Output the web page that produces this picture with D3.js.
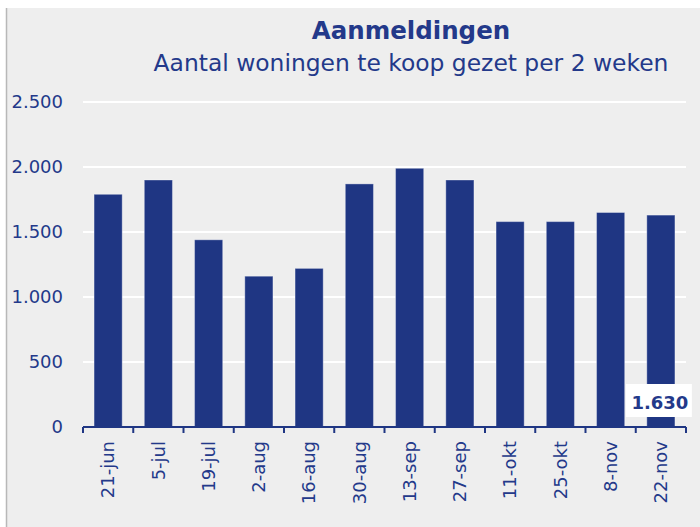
<!DOCTYPE html>
<html>
<head>
<meta charset="utf-8">
<script src="https://cdn.jsdelivr.net/npm/d3@7"></script>
<style>
html,body{margin:0;padding:0;background:#fff;}
svg{display:block;font-family:"DejaVu Sans",sans-serif;}
</style>
</head>
<body>
<svg id="chart"></svg>
<script>
const W=700,H=527;
// data
const periods=['21-jun','5-jul','19-jul','2-aug','16-aug','30-aug','13-sep','27-sep','11-okt','25-okt','8-nov','22-nov'];
const aanmeldingen=[1790,1900,1440,1160,1220,1870,1990,1900,1580,1580,1650,1630];
const yTicks=[0,500,1000,1500,2000,2500];
const title='Aanmeldingen';
const subtitle='Aantal woningen te koop gezet per 2 weken';

const NAVY='#1f3683', TXT='#23398a';
const svg=d3.select('#chart').attr('width',W).attr('height',H);

// panel background + left border
svg.append('rect').attr('x',7).attr('y',8).attr('width',W-7).attr('height',H-8).attr('fill','#eeeeee');
svg.append('line').attr('x1',6.5).attr('x2',6.5).attr('y1',8).attr('y2',H).attr('stroke','#b8b8b8').attr('stroke-width',1.5);

const x=d3.scaleBand().domain(periods).range([83,686]).paddingInner(0.44).paddingOuter(0.22);
const y=d3.scaleLinear().domain([0,2500]).range([427,102]);

// titles
const cx=411;
svg.append('text').attr('x',cx).attr('y',39).attr('text-anchor','middle')
  .attr('fill',TXT).style('font-weight','bold').style('font-size','24.5px').text(title);
svg.append('text').attr('x',cx).attr('y',71).attr('text-anchor','middle')
  .attr('fill',TXT).style('font-size','23.4px').text(subtitle);

// gridlines
svg.append('g').selectAll('line').data(yTicks.filter(d=>d>0)).join('line')
  .attr('x1',83).attr('x2',686).attr('y1',d=>y(d)).attr('y2',d=>y(d))
  .attr('stroke','#ffffff').attr('stroke-width',2);

// y labels
svg.append('g').selectAll('text').data(yTicks).join('text')
  .attr('x',63).attr('y',d=>y(d)).attr('dy','0.36em').attr('text-anchor','end')
  .attr('fill',TXT).style('font-size','18px')
  .text(d=>d3.format(',')(d).replace(/,/g,'.'));

// bars
svg.append('g').selectAll('rect').data(periods).join('rect')
  .attr('x',d=>x(d)).attr('width',x.bandwidth())
  .attr('y',(d,i)=>y(aanmeldingen[i])).attr('height',(d,i)=>y(0)-y(aanmeldingen[i]))
  .attr('fill',NAVY).attr('stroke','#ffffff').attr('stroke-opacity',0.35).attr('stroke-width',1);

// x axis line + ticks between categories
const gx=svg.append('g');
const edges=periods.map(d=>x(d)-x.step()*x.paddingInner()/2).concat([x.range()[1]]);
edges[0]=x.range()[0];
gx.append('line').attr('x1',x.range()[0]).attr('x2',x.range()[1]).attr('y1',y(0)).attr('y2',y(0))
  .attr('stroke',NAVY).attr('stroke-width',2);
gx.selectAll('line.tk').data(edges).join('line').attr('class','tk')
  .attr('x1',d=>d).attr('x2',d=>d).attr('y1',y(0)).attr('y2',y(0)+6)
  .attr('stroke',NAVY).attr('stroke-width',2);
gx.selectAll('text').data(periods).join('text')
  .attr('transform',d=>`translate(${x(d)+x.bandwidth()/2},441) rotate(-90)`)
  .attr('dy','0.35em').attr('text-anchor','end')
  .attr('fill',TXT).style('font-size','18px').text(d=>d);

// value label on last bar
const last=periods.length-1;
const lx=x(periods[last])+x.bandwidth()/2-2;
const lab=svg.append('g');
lab.append('rect').attr('x',lx-33).attr('y',y(0)-43).attr('width',66).attr('height',33).attr('fill','#ffffff');
lab.append('text').attr('x',lx+1).attr('y',y(0)-18).attr('text-anchor','middle')
  .attr('fill',TXT).style('font-weight','bold').style('font-size','18px')
  .text(d3.format(',')(aanmeldingen[last]).replace(/,/g,'.'));
</script>
</body>
</html>
